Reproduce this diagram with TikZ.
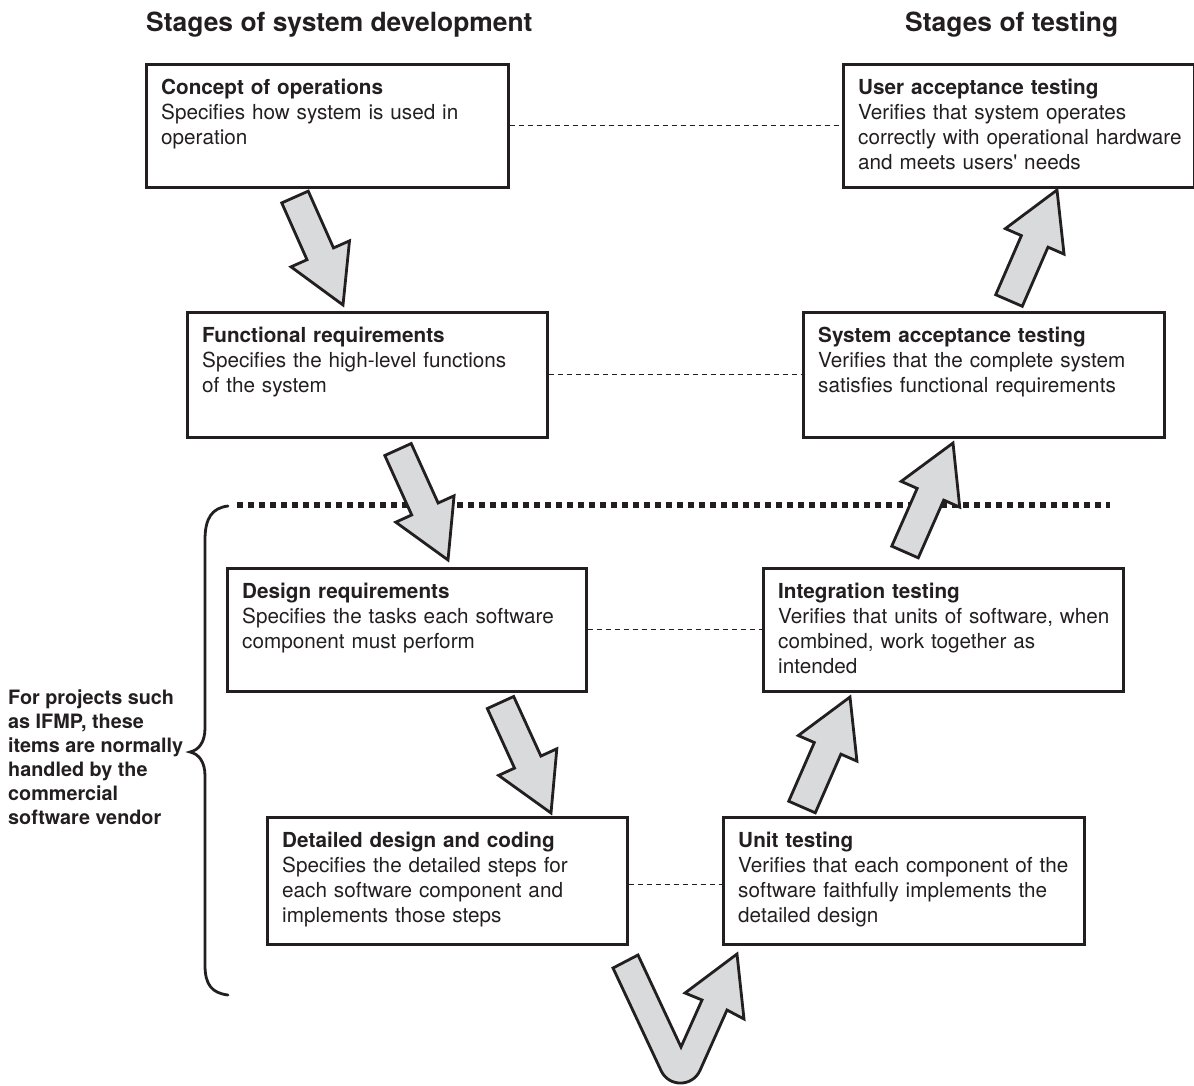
\documentclass[tikz,border=0pt]{standalone}
\usepackage{fontspec}
\setmainfont{TeX Gyre Heros}
\usetikzlibrary{calc}

\definecolor{ink}{RGB}{35,31,32}
\definecolor{arrowfill}{RGB}{217,218,220}

\tikzset{
  stagebox/.style={draw=ink, line width=2.6pt, rectangle, inner sep=0pt, anchor=north west},
  stagetext/.style={anchor=north west, align=left, text width=345pt, inner xsep=16pt,
    inner ysep=16pt, text=ink, font=\fontsize{20.7}{25}\selectfont},
  heading/.style={anchor=base west, inner sep=0pt, text=ink,
    font=\bfseries\fontsize{26.4}{30}\selectfont},
  note/.style={anchor=north west, align=left, inner sep=0pt, text=ink,
    font=\bfseries\fontsize{19.8}{24}\selectfont},
  link/.style={draw=ink, line width=1.2pt, dash pattern=on 5pt off 4pt},
  divider/.style={draw=ink, line width=5.5pt, dash pattern=on 5.5pt off 5.5pt},
  blockarrow/.style={draw=ink, fill=arrowfill, line width=2.8pt, line join=miter},
  bracket/.style={draw=ink, line width=2.8pt, line cap=round},
}

% one stage of the V: name, left, top, width, height, title, description
\newcommand\stage[7]{%
  \node[stagebox, minimum width=#4pt, minimum height=#5pt,
    label={[stagetext]north west:{\textbf{#6}\\#7}}] (#1) at (#2,#3) {};
}

% broad arrow from coordinate #1 (tail) to coordinate #2 (tip)
\newcommand\blockarrow[2]{%
  \coordinate (#1-#2-neck) at ($(#2)!56pt!(#1)$);
  \draw[blockarrow]
    ($(#1)!14.5pt!90:(#2)$) -- ($(#1-#2-neck)!14.5pt!-90:(#1)$)
    -- ($(#1-#2-neck)!32pt!-90:(#1)$) -- (#2)
    -- ($(#1-#2-neck)!32pt!90:(#1)$) -- ($(#1-#2-neck)!14.5pt!90:(#1)$)
    -- ($(#1)!14.5pt!-90:(#2)$) -- cycle;
}

\begin{document}
\begin{tikzpicture}[x=1pt, y=-1pt]
  \useasboundingbox (0,0) rectangle (1194,1085);

  % column headings
  \node[heading] (devhead) at (146,31) {Stages of system development};
  \node[heading] (testhead) at (905,31) {Stages of testing};

  % boundary of the vendor-supplied part
  \draw[divider] (237,505) -- (1110,505);

  % development stages (left) and testing stages (right)
  \stage{concept}{145}{63}{362}{123}{Concept of operations}
    {Specifies how system is used in\\operation}
  \stage{user}{842}{63}{350.5}{123}{User acceptance testing}
    {Verifies that system operates\\correctly with operational hardware\\and meets users\textquotesingle{} needs}
  \stage{func}{186}{311}{360}{125}{Functional requirements}
    {Specifies the high-level functions\\of the system}
  \stage{sysacc}{802}{311}{361}{125}{System acceptance testing}
    {Verifies that the complete system\\satisfies functional requirements}
  \stage{design}{226}{567}{359}{123}{Design requirements}
    {Specifies the tasks each software\\component must perform}
  \stage{integ}{762}{567}{360}{123}{Integration testing}
    {Verifies that units of software, when\\combined, work together as\\intended}
  \stage{detail}{266}{816}{360}{127}{Detailed design and coding}
    {Specifies the detailed steps for\\each software component and\\implements those steps}
  \stage{unit}{722}{816}{361}{127}{Unit testing}
    {Verifies that each component of the\\software faithfully implements the\\detailed design}

  % each development stage is checked by the matching test stage
  \draw[link] (concept.east) -- (user.west);
  \draw[link] (func.east) -- (sysacc.west);
  \draw[link] (design.east) -- (integ.west);
  \draw[link] ([yshift=-4pt]detail.east) -- ([yshift=-4pt]unit.west);

  % descending and ascending arrows
  \coordinate (t1) at (295,197);    \coordinate (h1) at (343,305);
  \coordinate (t2) at (398,449.5);  \coordinate (h2) at (448,560);
  \coordinate (t3) at (500.5,702.5);\coordinate (h3) at (551,813);
  \coordinate (t4) at (1009,300.5); \coordinate (h4) at (1057,190);
  \coordinate (t5) at (905,552);    \coordinate (h5) at (953,443);
  \coordinate (t6) at (802,807);    \coordinate (h6) at (850,697);
  \blockarrow{t1}{h1}
  \blockarrow{t2}{h2}
  \blockarrow{t3}{h3}
  \blockarrow{t4}{h4}
  \blockarrow{t5}{h5}
  \blockarrow{t6}{h6}

  % turning arrow at the bottom of the V
  \draw[blockarrow] (613,968) -- (638,955) -- (681,1047) -- (702,1000)
    -- (685,993) -- (737,954) -- (744,1019) -- (727,1010) -- (700,1070.4)
    .. controls (692.5,1087.1) and (668.8,1087.3) .. (661.1,1070.7) -- cycle;

  % brace grouping the lower stages
  \draw[bracket] (228,506) .. controls (212,508) and (205,518) .. (205,540)
    -- (205,728) .. controls (205,742) and (199,750) .. (190,752)
    .. controls (199,754) and (205,762) .. (205,776)
    -- (205,965) .. controls (205,985) and (212,993) .. (228,995);

  \node[note] (vendornote) at (8,690) {For projects such\\as IFMP, these\\items are normally\\handled by the\\commercial\\software vendor};
\end{tikzpicture}
\end{document}
